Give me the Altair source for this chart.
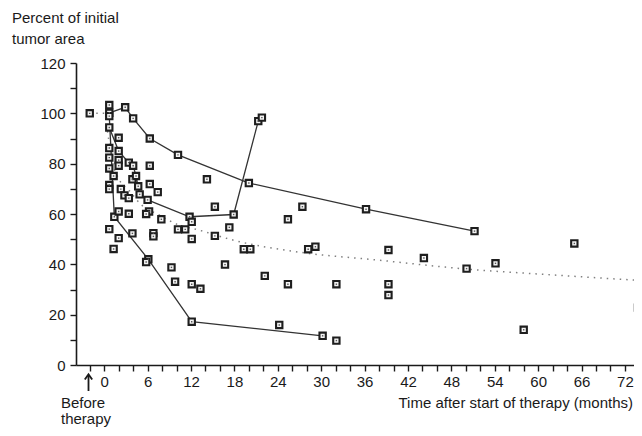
import altair as alt
import pandas as pd

# ---- data ----
pt_month = [-2,
            0.7, 0.7, 0.7, 0.7, 0.7, 0.7, 0.7, 0.7, 0.7, 0.7,
            1.3, 1.4, 1.3,
            2.0, 2.0, 2.0, 2.0, 2.0, 2.0,
            2.3, 2.9, 2.8, 3.4, 3.4, 3.4,
            4.0, 4.0, 3.9, 3.9, 4.4, 4.7, 4.9,
            6.3, 6.3, 6.3, 6.0, 6.2, 5.8, 6.1, 5.8,
            6.8, 6.8, 7.4, 7.9, 9.3, 9.8, 10.2, 10.2, 11.2, 11.8,
            12.1, 12.1, 12.1, 12.1, 13.3, 14.2, 15.3, 15.3, 16.7, 17.3, 17.9,
            19.3, 20.0, 20.2, 21.3, 21.8, 22.2, 24.2, 25.4, 25.4, 27.4, 28.2, 29.2,
            30.2, 32.1, 32.1, 36.2, 39.3, 39.3, 39.3, 44.2, 50.1, 51.2, 54.1, 58.0,
            65.0, 73.8]
pt_value = [100,
            103.3, 100.2, 98.9, 94.4, 86.2, 82.4, 78.1, 71.5, 69.9, 54.0,
            75.1, 58.9, 46.1,
            90.3, 85.0, 81.4, 79.2, 61.0, 50.4,
            69.9, 102.4, 67.4, 80.4, 66.3, 60.1,
            98.0, 79.2, 73.8, 52.3, 75.1, 71.0, 67.8,
            90.0, 79.2, 71.9, 65.6, 61.0, 60.0, 42.0, 40.9,
            52.4, 51.1, 68.7, 57.9, 38.8, 33.1, 83.5, 53.9, 53.9, 58.9,
            56.9, 50.1, 32.1, 17.2, 30.3, 73.8, 62.9, 51.3, 39.9, 54.7, 59.8,
            46.0, 72.3, 46.0, 96.9, 98.3, 35.4, 15.9, 57.9, 32.1, 62.9, 46.0, 47.0,
            11.6, 32.1, 9.7, 61.9, 45.7, 32.1, 27.8, 42.5, 38.3, 53.2, 40.4, 14.0,
            48.3, 22.8]

line1_month = [0.7, 2.9, 4.0, 6.3, 10.2, 20.0, 36.2, 51.2]
line1_value = [100.2, 102.4, 98.0, 90.0, 83.5, 72.3, 61.9, 53.2]
line2_month = [0.7, 2.0, 3.4, 4.0, 4.4, 4.9, 6.0, 11.8, 17.9, 21.3]
line2_value = [94.4, 85.0, 80.4, 79.2, 75.1, 67.8, 65.6, 58.9, 59.8, 96.9]
line3_month = [0.7, 1.4, 6.1, 12.1, 30.2]
line3_value = [98.9, 58.9, 42.0, 17.2, 11.6]

fit_month = [-2, 0, 0.6, 1.2, 2.1, 3.4, 5, 7.6, 10, 13.1, 18, 26.8, 37.8, 50.2, 62, 74]
fit_value = [100, 100, 90, 80, 73.5, 69.5, 64, 59.6, 56, 53.6, 49.5, 44.9, 41.7, 38.1, 35.8, 33.6]

x_ticks = list(range(-2, 74, 2))
y_ticks = list(range(0, 121, 10))

FONT = "Liberation Sans"
INK = "#1a1a1a"

points = pd.DataFrame({"month": pt_month, "value": pt_value})
rows = []
for pid, (ms, vs) in enumerate([(line1_month, line1_value),
                                (line2_month, line2_value),
                                (line3_month, line3_value)]):
    for i, (m, v) in enumerate(zip(ms, vs)):
        rows.append({"patient": pid, "order": i, "month": m, "value": v})
lines = pd.DataFrame(rows)
fit = pd.DataFrame({"month": fit_month, "value": fit_value})

x_enc = alt.X("month:Q",
              scale=alt.Scale(domain=[-3.9, 73.25], nice=False, zero=False),
              axis=alt.Axis(values=x_ticks,
                            labelExpr="datum.value >= 0 && datum.value % 6 == 0 ? datum.label : ''",
                            title=None, grid=False, labelPadding=3))
y_enc = alt.Y("value:Q",
              scale=alt.Scale(domain=[0, 120], nice=False),
              axis=alt.Axis(values=y_ticks,
                            labelExpr="datum.value % 20 == 0 ? datum.label : ''",
                            title=None, grid=False, labelPadding=5))

fit_layer = alt.Chart(fit).mark_line(color="#808080", strokeWidth=1.5,
                                     strokeDash=[1.5, 5], interpolate="monotone").encode(
    x=x_enc, y=y_enc)

line_layer = alt.Chart(lines).mark_line(color="#333333", strokeWidth=1.3).encode(
    x=x_enc, y=y_enc, detail="patient:N", order="order:Q")

pt_layer = alt.Chart(points).mark_point(shape="square", filled=True, fill="#f4f4f4",
                                        stroke="#1e1e1e", strokeWidth=2.1, size=40,
                                        opacity=1).encode(x=x_enc, y=y_enc)
dot_layer = alt.Chart(points).mark_point(shape="square", filled=True, color="#555555",
                                         size=2, opacity=1).encode(x=x_enc, y=y_enc)

one = pd.DataFrame({"a": [0]})

def label(txt, x, y, align="left"):
    return alt.Chart(one).mark_text(text=txt, font=FONT, fontSize=15, color=INK,
                                    align=align, baseline="middle").encode(
        x=alt.value(x), y=alt.value(y))

texts = [
    label("Percent of initial", -64, -45),
    label("tumor area", -64, -24),
    label("Before", -15, 340),
    label("therapy", -15, 356),
    label("Time after start of therapy (months)", 557, 340, align="right"),
]

arrow_shaft = alt.Chart(one).mark_rule(color=INK, strokeWidth=1.8).encode(
    x=alt.value(12.5), y=alt.value(312), y2=alt.value(328))
arrow_head = alt.Chart(one).mark_point(shape="M -1 0.7 L 0 -0.7 L 1 0.7", filled=False,
                                       color=INK, strokeWidth=1.8, size=55, opacity=1).encode(
    x=alt.value(12.5), y=alt.value(314))

chart = alt.layer(fit_layer, line_layer, pt_layer, dot_layer, arrow_shaft, arrow_head,
                  *texts).properties(
    width=558, height=302,
    autosize=alt.AutoSizeParams(type="none"),
    padding={"left": 68, "top": 55, "right": 0, "bottom": 63},
    background="white",
).configure_view(stroke=None).configure_axis(
    domainColor=INK, domainWidth=1.6, tickColor=INK, tickWidth=1.4, tickSize=6,
    labelFont=FONT, labelFontSize=15, labelColor=INK,
)

chart.save("out.html", embed_options={"renderer": "svg", "actions": False})
